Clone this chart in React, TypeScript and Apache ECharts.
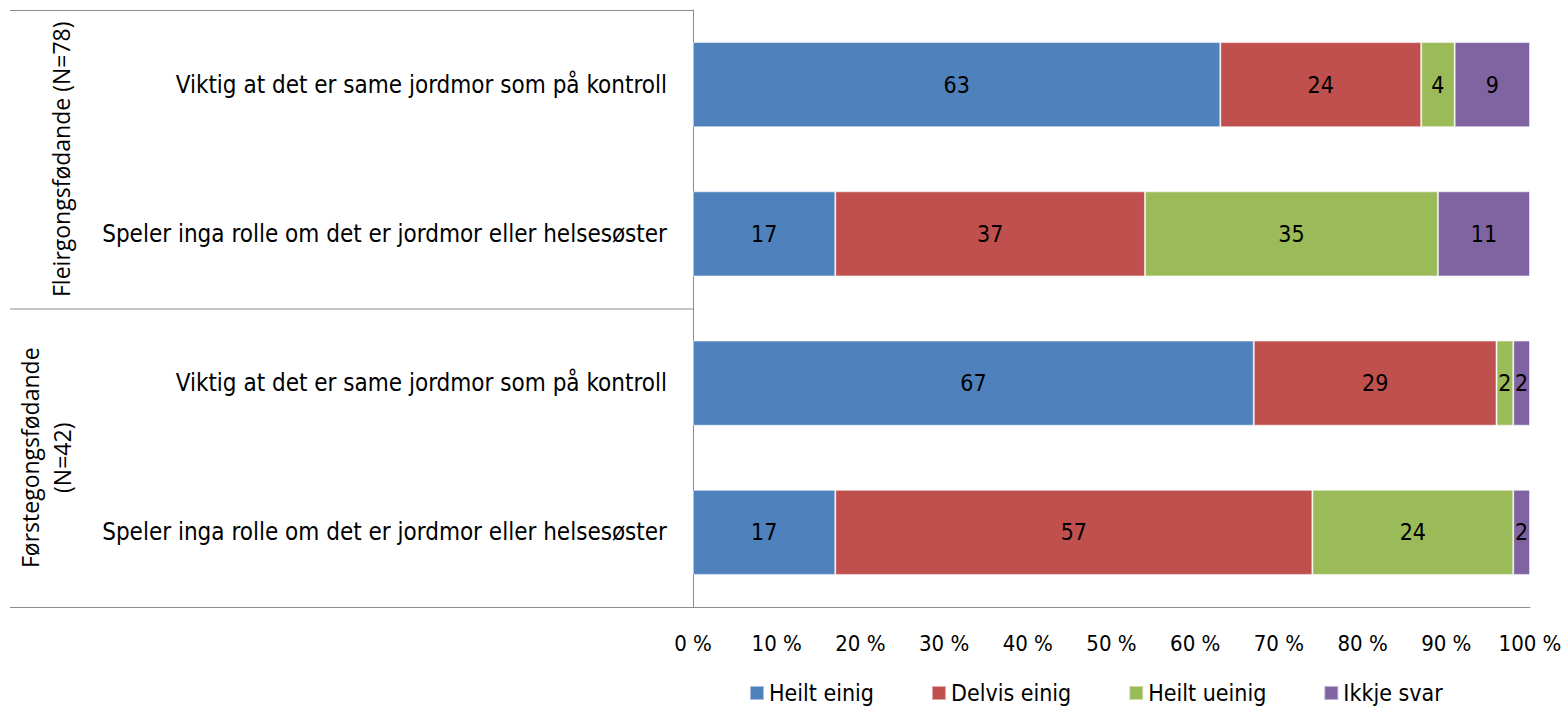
import React, { useEffect, useRef } from "react";
import * as echarts from "echarts";

const categories = [
  "Viktig at det er same jordmor som på kontroll",
  "Speler inga rolle om det er jordmor eller helsesøster",
  "Viktig at det er same jordmor som på kontroll",
  "Speler inga rolle om det er jordmor eller helsesøster",
];
const groups = ["Fleirgongsfødande (N=78)", "Førstegongsfødande\n(N=42)"];
const seriesNames = ["Heilt einig", "Delvis einig", "Heilt ueinig", "Ikkje svar"];
const heiltEinig = [63, 17, 67, 17];
const delvisEinig = [24, 37, 29, 57];
const heiltUeinig = [4, 35, 2, 24];
const ikkjeSvar = [9, 11, 2, 2];
const colors = ["#4F81BD", "#C0504D", "#9BBB59", "#8064A2"];
const xTicks = [0, 10, 20, 30, 40, 50, 60, 70, 80, 90, 100];

const FONT = "'DejaVu Sans Condensed', 'Liberation Sans Narrow', sans-serif";

export default function App() {
  const ref = useRef<HTMLDivElement>(null);
  useEffect(() => {
    const chart = echarts.init(ref.current!, null, { renderer: "svg" });
    const values = [heiltEinig, delvisEinig, heiltUeinig, ikkjeSvar];
    const gridLeft = 693, gridTop = 10, gridBottom = 100, gridRight = 36;
    const H = 707;
    const plotH = H - gridTop - gridBottom;
    const lineColor = "#8C8C8C";
    const groupX = [61, 46];
    chart.setOption({
      animation: false,
      textStyle: { fontFamily: FONT },
      grid: { left: gridLeft, right: gridRight, top: gridTop, bottom: gridBottom },
      xAxis: {
        type: "value",
        min: xTicks[0],
        max: xTicks[xTicks.length - 1],
        interval: 10,
        axisLine: { show: true, lineStyle: { color: lineColor, width: 1 } },
        axisTick: { show: false },
        splitLine: { show: false },
        axisLabel: {
          formatter: (v: number) => `${v} %`,
          fontSize: 22,
          color: "#000",
          margin: 25,
          fontFamily: FONT,
        },
      },
      yAxis: {
        type: "category",
        inverse: true,
        data: categories,
        axisLine: { show: true, lineStyle: { color: lineColor, width: 1 } },
        axisTick: { show: false },
        axisLabel: { fontSize: 24, color: "#000", margin: 26, fontFamily: FONT },
      },
      legend: {
        left: 749,
        top: 680,
        padding: 0,
        itemWidth: 14,
        itemHeight: 14,
        itemGap: 57,
        icon: "rect",
        textStyle: { fontSize: 23, color: "#000", fontFamily: FONT, lineHeight: 26 },
        data: seriesNames,
      },
      series: seriesNames.map((name, i) => ({
        name,
        type: "bar",
        stack: "total",
        barCategoryGap: "43%",
        data: values[i],
        itemStyle: { color: colors[i], borderColor: "rgba(255,255,255,0.5)", borderWidth: 1 },
        label: {
          show: true,
          position: "inside",
          color: "#000",
          fontSize: 23,
          fontFamily: FONT,
        },
      })),
      graphic: [
        ...[0, 2, 4].map((k) => ({
          type: "line",
          shape: {
            x1: 10,
            y1: gridTop + (plotH * k) / 4 + 0.5,
            x2: gridLeft,
            y2: gridTop + (plotH * k) / 4 + 0.5,
          },
          style: { stroke: lineColor, lineWidth: 1 },
        })),
        ...groups.map((g, i) => ({
          type: "text",
          x: groupX[i],
          y: gridTop + (plotH * (2 * i + 1)) / 4,
          rotation: Math.PI / 2,
          style: {
            text: g,
            fontSize: 23,
            fontFamily: "'Open Sans', sans-serif",
            fill: "#000",
            align: "center",
            verticalAlign: "middle",
            lineHeight: 32,
          },
        })),
      ],
    });
    return () => chart.dispose();
  }, []);
  return (
    <div
      ref={ref}
      style={{ position: "fixed", left: 0, top: 0, width: 1566, height: 707, background: "#fff" }}
    />
  );
}
